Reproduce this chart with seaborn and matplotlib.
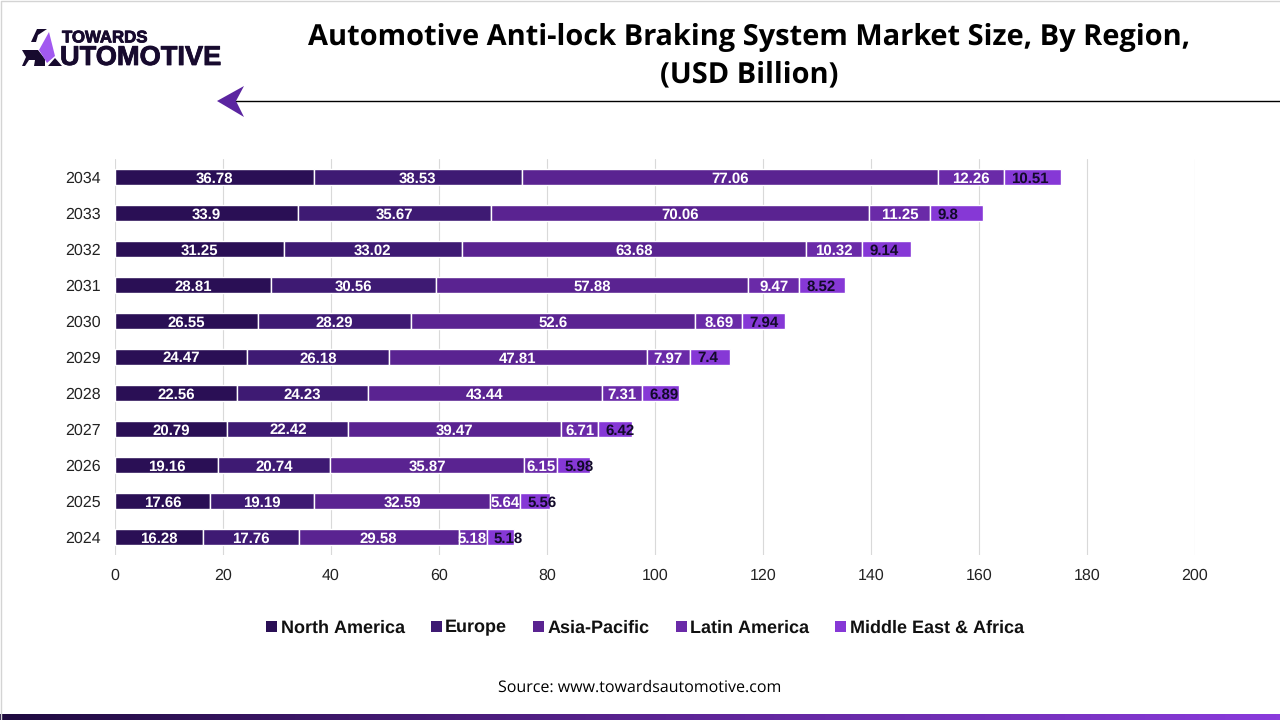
#!/usr/bin/env python3
"""Automotive ABS market size by region, stacked horizontal bars."""

import numpy as np
import pandas as pd
import matplotlib
matplotlib.use("Agg")
import matplotlib.pyplot as plt
import matplotlib.patheffects as pe
from matplotlib.colors import LinearSegmentedColormap
from matplotlib.patches import Polygon
import seaborn as sns

years = ["2034", "2033", "2032", "2031", "2030", "2029", "2028", "2027", "2026", "2025", "2024"]
north_america = [36.78, 33.9, 31.25, 28.81, 26.55, 24.47, 22.56, 20.79, 19.16, 17.66, 16.28]
europe = [38.53, 35.67, 33.02, 30.56, 28.29, 26.18, 24.23, 22.42, 20.74, 19.19, 17.76]
asia_pacific = [77.06, 70.06, 63.68, 57.88, 52.6, 47.81, 43.44, 39.47, 35.87, 32.59, 29.58]
latin_america = [12.26, 11.25, 10.32, 9.47, 8.69, 7.97, 7.31, 6.71, 6.15, 5.64, 5.18]
middle_east = [10.51, 9.8, 9.14, 8.52, 7.94, 7.4, 6.89, 6.42, 5.98, 5.56, 5.18]

regions = ["North America", "Europe", "Asia-Pacific", "Latin America", "Middle East & Africa"]
series = [north_america, europe, asia_pacific, latin_america, middle_east]
colors = ["#2a0f55", "#3e1a73", "#5a2391", "#6a2aa8", "#8638d6"]
x_ticks = [0, 20, 40, 60, 80, 100, 120, 140, 160, 180, 200]

sns.set_theme(style="white")
plt.rcParams["font.family"] = ["Liberation Sans", "DejaVu Sans"]
plt.rcParams["text.hinting"] = "no_hinting"
plt.rcParams["text.hinting_factor"] = 1

fig = plt.figure(figsize=(12.8, 7.2), dpi=100)

# decorations drawn in pixel coordinates
deco = fig.add_axes([0, 0, 1, 1], zorder=0)
deco.plot([0.5, 0.5, 1280], [720, 0.5, 0.5], color="#d4d4d4", lw=1)
cmap = LinearSegmentedColormap.from_list("band", ["#1f0b40", "#5a2391", "#8a3bdc"])
deco.imshow(np.linspace(0, 1, 512).reshape(1, -1), cmap=cmap, aspect="auto",
            extent=(0, 1280, 720, 714))
deco.set_xlim(0, 1280)
deco.set_ylim(720, 0)
deco.axis("off")

# title rule and arrow
deco.plot([236, 1280], [101, 101], color="black", lw=1)
deco.add_patch(Polygon([[217, 101], [244, 86], [236, 101], [244, 117]], color="#5b25a0", lw=0))

# logo
ink = "#170a2e"
deco.add_patch(Polygon([[31, 42], [37, 29], [47, 29], [38, 35], [36, 42]], color=ink, lw=0))
deco.add_patch(Polygon([[22, 50], [38, 50], [45, 59], [45, 66], [34, 66], [35, 60], [29, 60], [25, 66], [22, 66], [26, 57]],
                       color=ink, lw=0))
deco.add_patch(Polygon([[39, 50], [49, 32], [55, 56], [47, 63]], color="#a259f0", lw=0))
deco.add_patch(Polygon([[48, 66], [55, 58], [62, 66]], color=ink, lw=0))
bold = [pe.withStroke(linewidth=0.6, foreground=ink)]
deco.text(62, 38, "TOWARDS", fontsize=12.1, fontweight="bold", color=ink, va="center", ha="left",
          path_effects=bold)
deco.text(60, 58, "UTOMOTIVE", fontsize=19.6, fontweight="bold", color=ink, va="center", ha="left",
          path_effects=bold)

deco.text(749, 37, "Automotive Anti-lock Braking System Market Size, By Region,", family="Open Sans",
          fontsize=20.75, fontweight="bold", color="black", ha="center", va="center")
deco.text(749, 74.5, "(USD Billion)", family="Open Sans", fontsize=20.75, fontweight="bold",
          color="black", ha="center", va="center")
deco.text(640, 687.5, "Source: www.towardsautomotive.com", family="Open Sans", fontsize=11.8,
          color="black", ha="center", va="center")

# chart
ax = fig.add_axes([115 / 1280, 1 - 555 / 720, (1195 - 115) / 1280, 396 / 720], zorder=1)
ax.patch.set_alpha(0)
left = np.zeros(len(years))
for name, vals, c in zip(regions, series, colors):
    df = pd.DataFrame({"year": years, "value": vals})
    n_before = len(ax.containers)
    sns.barplot(data=df, y="year", x="value", order=years, orient="y", color=c, saturation=1,
                width=0.46, left=left, edgecolor="white", linewidth=1, label=name, ax=ax)
    if name == regions[-1]:
        # last region's labels sit near the bar start and can run past its end
        for i, v in enumerate(vals):
            ax.annotate(f"{v:g}", (left[i], i), xytext=(5.4, 0), textcoords="offset points",
                        ha="left", va="center_baseline", color="#120a2a", fontsize=11, fontweight="bold")
    else:
        texts = ax.bar_label(ax.containers[n_before], labels=[f"{v:g}" for v in vals], label_type="center",
                             color="white", fontsize=11, fontweight="bold")
        for t in texts:
            t.set_verticalalignment("center_baseline")
    left = left + np.array(vals)

ax.set_xlim(0, 200)
ax.set_ylim(10.5, -0.5)
ax.set_xticks(x_ticks)
ax.set_xlabel("")
ax.set_ylabel("")
ax.xaxis.grid(True, color="#d9d9d9", lw=0.8)
ax.yaxis.grid(False)
ax.set_axisbelow(True)
ax.tick_params(axis="y", length=0, pad=10.5, labelsize=11.3, labelcolor="#222222")
ax.tick_params(axis="x", length=0, pad=9.5, labelsize=11.3, labelcolor="#222222")
sns.despine(ax=ax, top=True, right=True, bottom=True, left=True)

handles, labels = ax.get_legend_handles_labels()
leg = ax.legend(handles, labels, ncol=5, frameon=False, loc="center", bbox_to_anchor=(0.4907, -0.184),
                prop={"weight": "bold", "size": 12.8}, handlelength=0.62, handleheight=0.62,
                handletextpad=0.2, columnspacing=1.45, labelcolor="#111111")
for h in leg.get_patches():
    h.set_edgecolor("none")

fig.savefig("out.png", dpi=100)
plt.close()
